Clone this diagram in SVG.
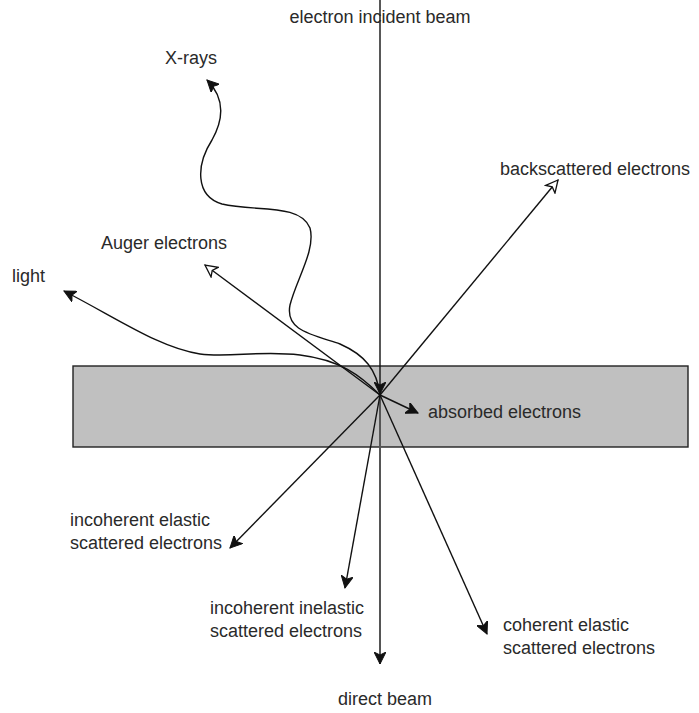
<svg xmlns="http://www.w3.org/2000/svg" width="699" height="713" viewBox="0 0 699 713">
<style>
text{font-family:"Liberation Sans",Arial,sans-serif;font-size:18px;fill:#2a2a2a}
.ln{fill:none;stroke:#111;stroke-width:1.4}
</style>
<defs>
<marker id="fa" markerWidth="14" markerHeight="12" refX="12" refY="6" orient="auto" markerUnits="userSpaceOnUse">
<path d="M0,0 L12,6 L0,12 L3,6 Z" fill="#111" stroke="#111" stroke-width="1"/>
</marker>
<marker id="oa" markerWidth="16" markerHeight="14" refX="13" refY="7" orient="auto" markerUnits="userSpaceOnUse">
<path d="M1,1 L13,7 L1,13 L4,7 Z" fill="#fff" stroke="#111" stroke-width="1.3"/>
</marker>
</defs>
<rect width="699" height="713" fill="#fff"/>
<g id="sample">
<rect x="73" y="366" width="615" height="81" fill="#c0c0c0" stroke="#222" stroke-width="1.4"/>
</g>
<g id="connectors">
<path class="ln" d="M380,0 L380,394" marker-end="url(#fa)"/>
<path d="M380,395 L380,664" fill="none" stroke="#555" stroke-width="2" marker-end="url(#fa)"/>
<path class="ln" d="M380,395 L558,180" marker-end="url(#oa)"/>
<path class="ln" d="M380,395 L205,265" marker-end="url(#oa)"/>
<path class="ln" d="M380,395 C 360,375 340,360 300,355 C 260,350 230,358 200,354 C 160,348 120,320 64,291" marker-end="url(#fa)"/>
<path class="ln" d="M380,395 C 377,370 365,355 340,344 C 310,334 285,330 290,305 C 296,280 316,250 310,228 C 300,203 255,212 222,204 C 195,196 196,165 212,140 C 226,115 222,95 207,80" marker-end="url(#fa)"/>
<path class="ln" d="M380,395 L418,413" marker-end="url(#fa)"/>
<path class="ln" d="M380,395 L230,548" marker-end="url(#fa)"/>
<path class="ln" d="M380,395 L345,588" marker-end="url(#fa)"/>
<path class="ln" d="M380,395 L487,634" marker-end="url(#fa)"/>
</g>
<g id="labels">
<text x="380" y="23" text-anchor="middle">electron incident beam</text>
<text x="165" y="64">X-rays</text>
<text x="500" y="175">backscattered electrons</text>
<text x="101" y="249">Auger electrons</text>
<text x="12" y="282">light</text>
<text x="428" y="418">absorbed electrons</text>
<text x="70" y="526">incoherent elastic</text>
<text x="70" y="549">scattered electrons</text>
<text x="210" y="614">incoherent inelastic</text>
<text x="210" y="637">scattered electrons</text>
<text x="503" y="631">coherent elastic</text>
<text x="503" y="654">scattered electrons</text>
<text x="385" y="705" text-anchor="middle">direct beam</text>
</g>
</svg>
